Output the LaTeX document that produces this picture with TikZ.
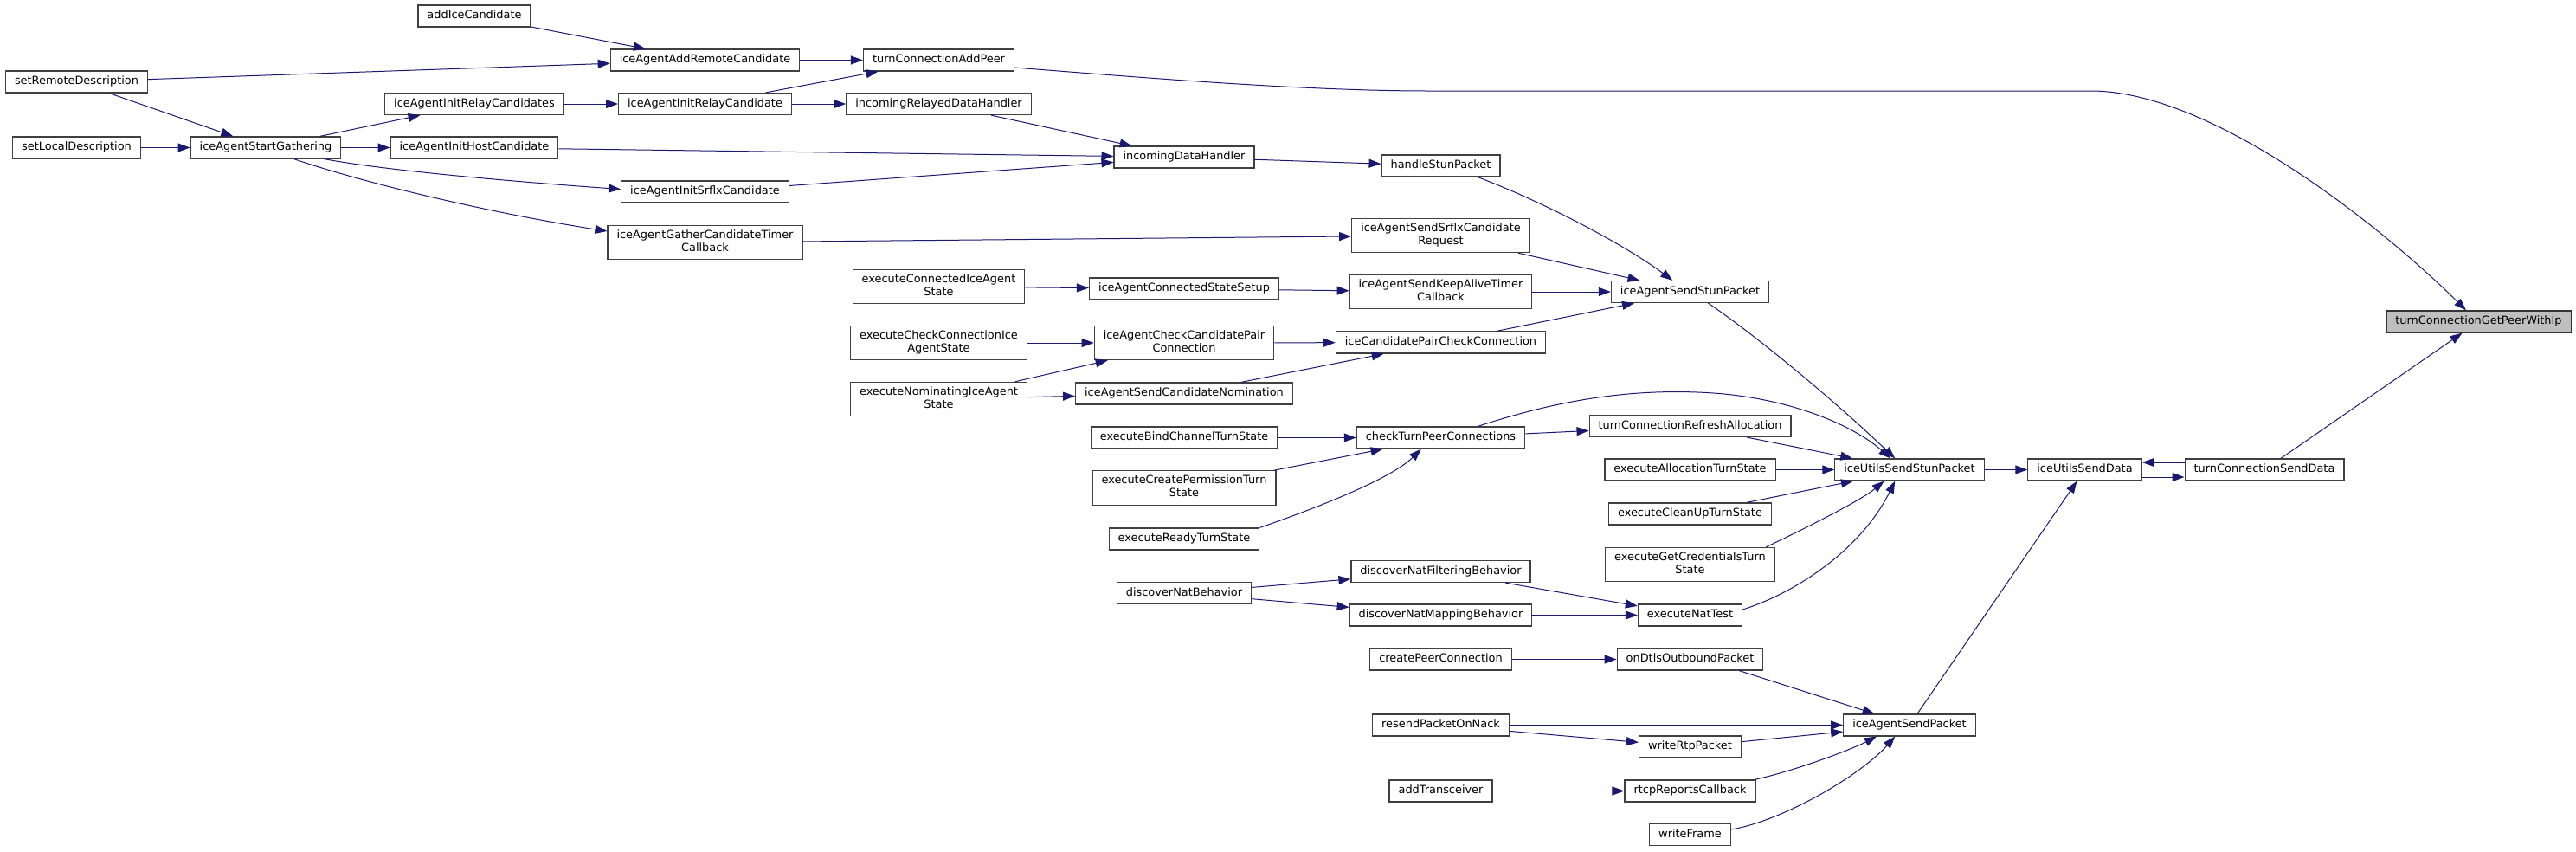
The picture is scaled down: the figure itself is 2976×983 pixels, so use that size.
\documentclass[tikz,border=0pt]{standalone}
\usepackage{fontspec}
\setmainfont{DejaVu Sans}
\usetikzlibrary{arrows.meta}
\definecolor{edgeblue}{HTML}{191970}
\definecolor{nodeline}{HTML}{404040}
\definecolor{rootgrey}{HTML}{BFBFBF}

\begin{document}
\begin{tikzpicture}[x=1pt, y=-1pt,
    box/.style={rectangle, draw=nodeline, line width=1.2pt, fill=white,
        inner xsep=10.5pt, inner ysep=5pt, align=center,
        font=\fontsize{12.9}{15}\selectfont,
        execute at begin node=\strut, execute at end node=\strut},
    boxr/.style={box, fill=rootgrey, draw=black!80},
    arr/.style={-{Triangle[length=14pt,width=10pt]}, line width=1pt, edgeblue}
]
    \useasboundingbox (0,0) rectangle (2976,983);

    \node[box] (srd) at (88.5,94.5)   {setRemoteDescription};
    \node[box] (sld) at (88.5,170.5)  {setLocalDescription};
    \node[box] (sg)  at (307,170.5)   {iceAgentStartGathering};

    \node[box] (aic) at (548,18.5)    {addIceCandidate};
    \node[box] (irs) at (548,120)     {iceAgentInitRelayCandidates};
    \node[box] (ihc) at (548,170.5)   {iceAgentInitHostCandidate};

    \node[box] (arc) at (814.5,69.5)  {iceAgentAddRemoteCandidate};
    \node[box] (irc) at (814.5,120)   {iceAgentInitRelayCandidate};
    \node[box] (isc) at (814.5,221.5) {iceAgentInitSrflxCandidate};
    \node[box] (gct) at (814.5,280)   {iceAgentGatherCandidateTimer\\Callback};

    \node[box] (cap) at (1084.5,69.5) {turnConnectionAddPeer};
    \node[box] (ird) at (1084.5,120)  {incomingRelayedDataHandler};
    \node[box] (eci) at (1084.5,331)  {executeConnectedIceAgent\\State};
    \node[box] (ecc) at (1084.5,396)  {executeCheckConnectionIce\\AgentState};
    \node[box] (eni) at (1084.5,461)  {executeNominatingIceAgent\\State};

    \node[box] (idh) at (1368,181.5)  {incomingDataHandler};
    \node[box] (css) at (1368,333.5)  {iceAgentConnectedStateSetup};
    \node[box] (ccp) at (1368,396)    {iceAgentCheckCandidatePair\\Connection};
    \node[box] (scn) at (1368,454.5)  {iceAgentSendCandidateNomination};
    \node[box] (ebc) at (1368,505.5)  {executeBindChannelTurnState};
    \node[box] (ecp) at (1368,563.5)  {executeCreatePermissionTurn\\State};
    \node[box] (ert) at (1368,622.5)  {executeReadyTurnState};
    \node[box] (dnb) at (1368,685)    {discoverNatBehavior};

    \node[box] (hsp) at (1664.5,191.5) {handleStunPacket};
    \node[box] (ssr) at (1664.5,272)   {iceAgentSendSrflxCandidate\\Request};
    \node[box] (ska) at (1664.5,337)   {iceAgentSendKeepAliveTimer\\Callback};
    \node[box] (pcc) at (1664.5,395.5) {iceCandidatePairCheckConnection};
    \node[box] (ctp) at (1664.5,505.5) {checkTurnPeerConnections};
    \node[box] (dnf) at (1664.5,660)   {discoverNatFilteringBehavior};
    \node[box] (dnm) at (1664.5,710.5) {discoverNatMappingBehavior};
    \node[box] (cpc) at (1664.5,761.5) {createPeerConnection};
    \node[box] (rpn) at (1664.5,837.5) {resendPacketOnNack};
    \node[box] (atr) at (1664.5,913.5) {addTransceiver};

    \node[box] (ssp) at (1952.5,337)   {iceAgentSendStunPacket};
    \node[box] (rfa) at (1952.5,492)   {turnConnectionRefreshAllocation};
    \node[box] (eat) at (1952.5,542.5) {executeAllocationTurnState};
    \node[box] (ecu) at (1952.5,593.5) {executeCleanUpTurnState};
    \node[box] (egc) at (1952.5,652)   {executeGetCredentialsTurn\\State};
    \node[box] (ent) at (1952.5,710.5) {executeNatTest};
    \node[box] (odp) at (1952.5,761.5) {onDtlsOutboundPacket};
    \node[box] (wrp) at (1952.5,862.5) {writeRtpPacket};
    \node[box] (rrc) at (1952.5,913.5) {rtcpReportsCallback};
    \node[box] (wfr) at (1952.5,964)   {writeFrame};

    \node[box] (usp) at (2206,542.5)   {iceUtilsSendStunPacket};
    \node[box] (asp) at (2206,837.5)   {iceAgentSendPacket};
    \node[box] (usd) at (2408.5,542.5) {iceUtilsSendData};
    \node[box] (csd) at (2616,542.5)   {turnConnectionSendData};
    \node[boxr] (gpi) at (2863.5,371.5) {turnConnectionGetPeerWithIp};

    \draw[arr] (aic) -- (arc); \draw[arr] (srd) -- (arc); \draw[arr] (srd) -- (sg);
    \draw[arr] (sld) -- (sg); \draw[arr] (sg) -- (irs); \draw[arr] (sg) -- (ihc);
    \draw[arr] (sg.-11.4) .. controls (449,197.4) and (597,210) .. ([yshift=3pt]isc.west);
    \draw[arr] (sg.-22) .. controls (428,213.6) and (571,246.6) .. ([yshift=13pt]gct.west);
    \draw[arr] (irs) -- (irc); \draw[arr] (arc) -- (cap); \draw[arr] (irc) -- (cap);
    \draw[arr] (irc) -- (ird); \draw[arr] (ird) -- (idh); \draw[arr] (ihc) -- (idh);
    \draw[arr] (isc) -- (idh); \draw[arr] (idh) -- (hsp);
    \draw[arr] (hsp.-17.6) .. controls (1790,236) and (1880,285) .. (ssp.147.6);
    \draw[arr] (gct) -- (ssr); \draw[arr] (ssr) -- (ssp);
    \draw[arr] (eci) -- (css); \draw[arr] (css) -- (ska); \draw[arr] (ska) -- (ssp);
    \draw[arr] (ecc) -- (ccp); \draw[arr] (eni) -- (ccp); \draw[arr] (eni) -- (scn);
    \draw[arr] (ccp) -- (pcc); \draw[arr] (scn) -- (pcc); \draw[arr] (pcc) -- (ssp);
    \draw[arr] ([yshift=-8.5pt]cap.east) .. controls (1300,88) and (1500,105) .. (1650,105)
        -- (2415,105) .. controls (2560,105) and (2760,270) .. ([xshift=-14.5pt]gpi.north);
    \draw[arr] (ssp.-32.4) .. controls (2043,398) and (2130,473) .. (usp.142);
    \draw[arr] (ctp.17.2) .. controls (1800,462) and (1880,450) .. (1960,453)
        .. controls (2060,456) and (2140,490) .. (usp.149.2);
    \draw[arr] (ctp) -- (rfa); \draw[arr] (ebc) -- (ctp); \draw[arr] (ecp) -- (ctp);
    \draw[arr] (ert.north east) .. controls (1540,580) and (1610,550) .. (ctp.210.2);
    \draw[arr] (rfa) -- (usp); \draw[arr] (eat) -- (usp); \draw[arr] (ecu) -- (usp);
    \draw[arr] (egc.13.5) .. controls (2080,613) and (2150,578) .. (usp.204.8);
    \draw[arr] ([yshift=6.5pt]ent.east) .. controls (2074,685) and (2150,635) .. (usp.218);
    \draw[arr] (dnb) -- (dnf); \draw[arr] (dnb) -- (dnm);
    \draw[arr] (dnf) -- (ent); \draw[arr] (dnm) -- (ent);
    \draw[arr] (cpc) -- (odp); \draw[arr] (odp.-13.9) -- (asp.162.2);
    \draw[arr] (rpn) -- (asp); \draw[arr] (rpn) -- (wrp); \draw[arr] (wrp) -- (asp);
    \draw[arr] (atr) -- (rrc);
    \draw[arr] (rrc.10.2) .. controls (2075,890) and (2140,865) .. (asp.199.1);
    \draw[arr] ([yshift=6pt]wfr.east) .. controls (2060,948) and (2150,895) .. (asp.218);
    \draw[arr] (asp) -- (usd); \draw[arr] (usp) -- (usd);
    \draw[arr] ([yshift=-8.5pt]usd.east) -- ([yshift=-8.5pt]csd.west);
    \draw[arr] ([yshift=8.5pt]csd.west) -- ([yshift=8.5pt]usd.east);
    \draw[arr] (csd) -- (gpi);
\end{tikzpicture}
\end{document}
